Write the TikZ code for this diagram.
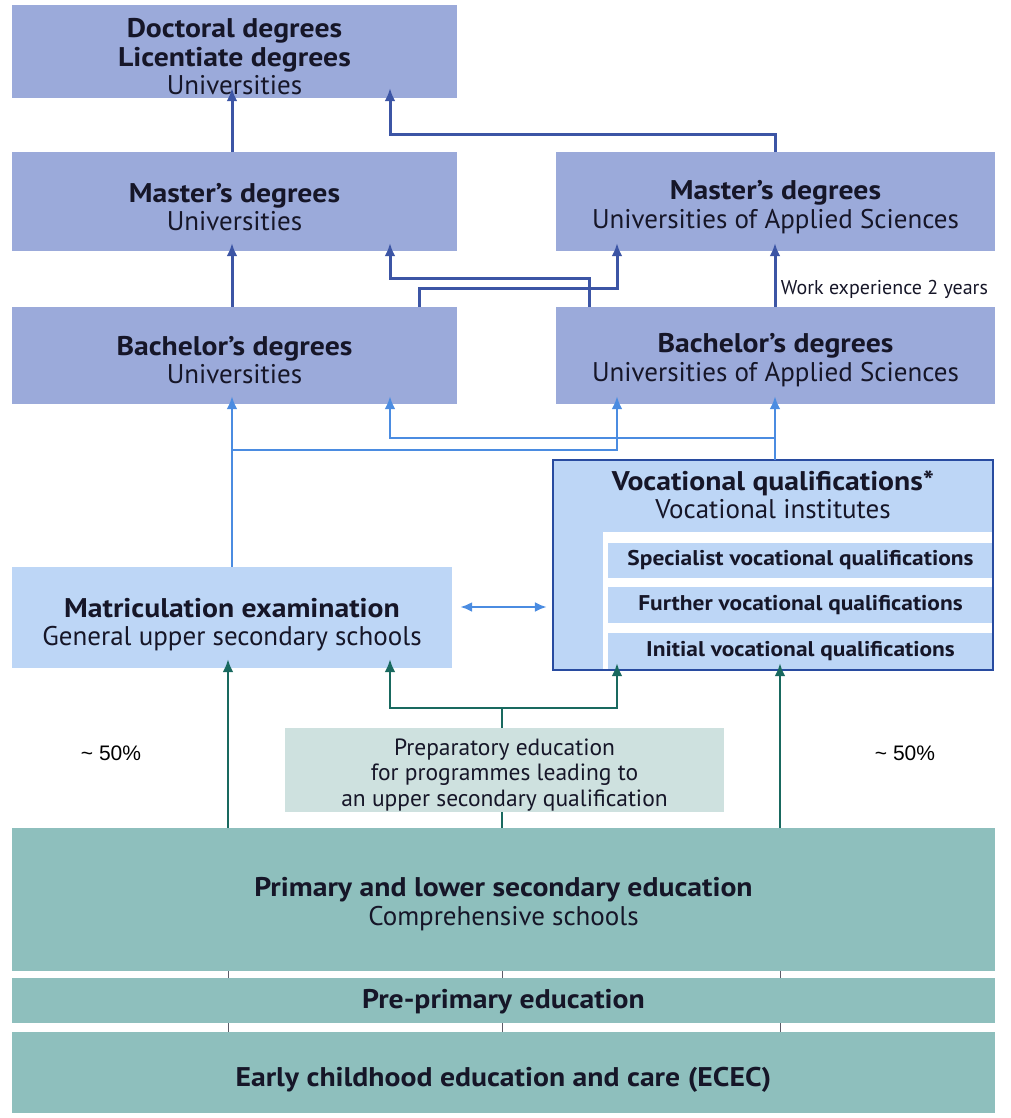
\documentclass[tikz,border=0pt]{standalone}
\usepackage{fontspec}
\setmainfont{PT Sans}[BoldFeatures={FakeStretch=1.1}]
\newfontfamily\arialf{Liberation Sans}
\usetikzlibrary{arrows.meta}
\definecolor{boxdark}{RGB}{155,170,218}
\definecolor{boxlight}{RGB}{189,214,246}
\definecolor{tealbox}{RGB}{142,191,189}
\definecolor{prepbox}{RGB}{206,225,223}
\definecolor{arrdark}{RGB}{60,85,165}
\definecolor{arrlight}{RGB}{75,140,225}
\definecolor{arrgreen}{RGB}{25,105,95}
\definecolor{vocline}{RGB}{40,75,160}
\definecolor{txt}{RGB}{22,22,40}
\newcommand\upstrut[1]{\rule{0pt}{#1}}
\tikzset{
  box/.style={inner sep=0pt, align=center, text=txt, font=\fontsize{27}{28.5}\selectfont},
  downby/.style={execute at begin node={\rule{0pt}{#1}}},
  darkbox/.style={box, fill=boxdark},
  lightbox/.style={box, fill=boxlight},
  tealnode/.style={box, fill=tealbox},
  subbox/.style={box, fill=boxlight, font=\fontsize{21.3}{24}\selectfont\bfseries},
  tip/.style={-{Latex[length=13pt,width=11pt]}},
  arrd/.style={draw=arrdark, line width=3pt, tip},
  arrl/.style={draw=arrlight, line width=2.8pt, tip},
  arrg/.style={draw=arrgreen, line width=2.8pt, tip},
  lineg/.style={draw=arrgreen, line width=2.8pt},
  tick/.style={draw=txt!70, line width=1pt}
}
\begin{document}
\begin{tikzpicture}[x=1pt,y=-1pt]
\useasboundingbox (0,0) rectangle (1011,1118);
% column coordinates
\coordinate (cA) at (232,0);
\coordinate (cB) at (390,0);
\coordinate (cC) at (419,0);
\coordinate (cD) at (589,0);
\coordinate (cE) at (617,0);
\coordinate (cF) at (775,0);
\coordinate (gA) at (228,0);
\coordinate (gM) at (502,0);
\coordinate (gF) at (780,0);
\coordinate (dy) at (0,607);

% boxes
\node[darkbox, minimum width=445pt, minimum height=93pt] (doc) at (234.5,51.5)
  {\upstrut{30pt}\textbf{Doctoral degrees}\\\textbf{Licentiate degrees}\\Universities};
\node[darkbox, minimum width=445pt, minimum height=99pt] (mu) at (234.5,201.5)
  {\upstrut{30pt}\textbf{Master’s degrees}\\Universities};
\node[darkbox, minimum width=439pt, minimum height=99pt] (muas) at (775.5,201.5)
  {\upstrut{30pt}\textbf{Master’s degrees}\\Universities of Applied Sciences};
\node[darkbox, minimum width=445pt, minimum height=97pt] (bu) at (234.5,355.5)
  {\upstrut{28pt}\textbf{Bachelor’s degrees}\\Universities};
\node[darkbox, minimum width=439pt, minimum height=97pt] (buas) at (775.5,355.5)
  {\upstrut{28pt}\textbf{Bachelor’s degrees}\\Universities of Applied Sciences};
\node[lightbox, minimum width=440pt, minimum height=101pt] (mat) at (232,617.5)
  {\upstrut{34pt}\textbf{Matriculation examination}\\General upper secondary schools};

% vocational
\node[box, fill=boxlight, minimum width=440pt, minimum height=210pt] (voc) at (773,565) {};
\fill[white] (603,532) rectangle (993,670);
\node[subbox, minimum width=385pt, minimum height=35pt] (spec) at (800.5,560.5) {Specialist vocational qualifications};
\node[subbox, minimum width=385pt, minimum height=36pt] (furt) at (800.5,605) {Further vocational qualifications};
\node[subbox, minimum width=385pt, minimum height=37pt] (init) at (800.5,651.5) {Initial vocational qualifications};
\node[box, anchor=center] (voct) at (773,495) {\textbf{Vocational qualifications*}\\Vocational institutes};
\draw[vocline, line width=2pt] (voc.north west) rectangle (voc.south east);

\node[box, fill=prepbox, minimum width=439pt, minimum height=84pt, font=\fontsize{23.5}{25.5}\selectfont] (prep) at (504.5,770)
  {\upstrut{26pt}Preparatory education\\for programmes leading to\\an upper secondary qualification};
\node[tealnode, minimum width=983pt, minimum height=143pt] (prim) at (503.5,899.5)
  {\upstrut{28pt}\textbf{Primary and lower secondary education}\\Comprehensive schools};
\node[tealnode, minimum width=983pt, minimum height=45pt, downby=22pt] (pre) at (503.5,1000.5)
  {\textbf{Pre-primary education}};
\node[tealnode, minimum width=983pt, minimum height=81pt, downby=33pt] (ecec) at (503.5,1072.5)
  {\textbf{Early childhood education and care (ECEC)}};

% labels
\node[font=\arialf\fontsize{21}{22}\selectfont, text=black] (p1) at (111,753) {\textasciitilde\ 50\%};
\node[font=\arialf\fontsize{21}{22}\selectfont, text=black] (p2) at (905,753) {\textasciitilde\ 50\%};

% dark blue arrows
\draw[arrd] (cA |- mu.north) -- ([yshift=10pt]cA |- doc.south);
\draw[arrd] (cF |- muas.north) |- (390,135) -- ([yshift=10pt]cB |- doc.south);
\draw[arrd] (cA |- bu.north) -- ([yshift=8pt]cA |- mu.south);
\draw[arrd] (cD |- buas.north) |- (390,278) -- ([yshift=8pt]cB |- mu.south);
\draw[arrd] (cC |- bu.north) |- (617,288) -- ([yshift=8pt]cE |- muas.south);
\draw[arrd] (cF |- buas.north) -- node[right, pos=0.28, xshift=1pt, text=txt, font=\fontsize{20}{22}\selectfont] (work) {Work experience 2 years} ([yshift=8pt]cF |- muas.south);

% light blue arrows
\draw[arrl] (cA |- mat.north) -- ([yshift=8pt]cA |- bu.south);
\draw[arrl] (232,450) -| ([yshift=8pt]cE |- buas.south);
\draw[arrl] (cF |- voc.north) -- ([yshift=8pt]cF |- buas.south);
\draw[arrl] (775,438) -| ([yshift=8pt]cB |- bu.south);
\draw[draw=arrlight, line width=2.8pt, {Latex[length=12pt,width=10pt]}-{Latex[length=12pt,width=10pt]}] ([xshift=8pt]mat.east |- dy) -- ([xshift=-6pt]voc.west |- dy);

% green arrows
\draw[arrg] (gA |- prim.north) -- ([yshift=9pt]gA |- mat.south);
\draw[arrg] (gF |- prim.north) -- ([yshift=7pt]gF |- voc.south);
\draw[lineg] (gM |- prim.north) -- (gM |- prep.south);
\draw[lineg] (gM |- prep.north) -- (502,708);
\draw[arrg] (502,708) -| ([yshift=9pt]cB |- mat.south);
\draw[arrg] (502,708) -| ([yshift=7pt]cE |- voc.south);

% ticks in gaps
\foreach \c in {gA,gM,gF}{
  \draw[tick] (\c |- prim.south) -- (\c |- pre.north);
  \draw[tick] (\c |- pre.south) -- (\c |- ecec.north);
}
\end{tikzpicture}
\end{document}
